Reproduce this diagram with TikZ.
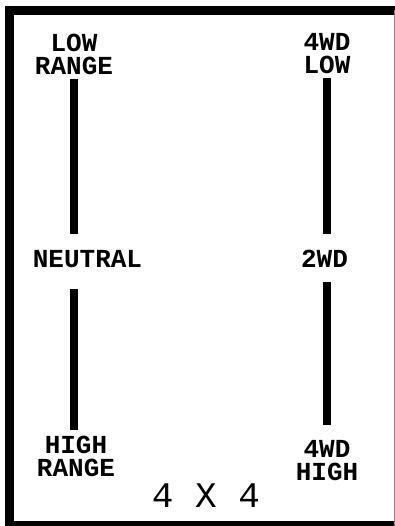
\documentclass[tikz,border=0pt]{standalone}
\usepackage{fontspec}
\setmonofont{Liberation Mono}
\usetikzlibrary{positioning}
\definecolor{ink}{HTML}{000000}

\begin{document}
\begin{tikzpicture}[
  x=1pt,y=-1pt,
  label/.style={font=\ttfamily\bfseries\fontsize{26}{23}\selectfont,text=ink,align=center,inner sep=0pt},
  title/.style={font=\ttfamily\fontsize{36}{36}\selectfont,text=ink,inner sep=0pt},
  bar/.style={draw=ink,line width=8pt},
  frame/.style={draw=ink,line width=9.5pt}
]
\useasboundingbox (0,0) rectangle (395,526);
\clip (0,0) rectangle (395,526);
\draw[frame] (395,10.5) -- (9.5,10.5) -- (9.5,526) -- (395,526);
\draw[draw=ink!50,line width=0.8pt] (394.6,10.5) -- (394.6,526);

\node[label] (lowrange) at (74,54) {LOW\\RANGE};
\node[label] (neutral) at (87.5,259) {NEUTRAL};
\node[label] (highrange) at (76,456.5) {HIGH\\RANGE};
\node[label] (fwdlow) at (327,53.5) {4WD\\LOW};
\node[label] (twowd) at (324.5,258.5) {2WD};
\node[label] (fwdhigh) at (327,460.5) {4WD\\HIGH};
\node[title] (fourbyfour) at (206,496) {4 X 4};

\draw[bar] ([yshift=-4pt]lowrange.south) -- ([yshift=16pt]neutral.north -| lowrange.south);
\draw[bar] ([yshift=-21pt]neutral.south -| lowrange.south) -- ([yshift=6pt]highrange.north -| lowrange.south);
\draw[bar] ([yshift=-4pt]fwdlow.south) -- ([yshift=16pt]twowd.north -| fwdlow.south);
\draw[bar] ([yshift=-15pt]twowd.south -| fwdlow.south) -- ([yshift=15pt]fwdhigh.north -| fwdlow.south);
\end{tikzpicture}
\end{document}
